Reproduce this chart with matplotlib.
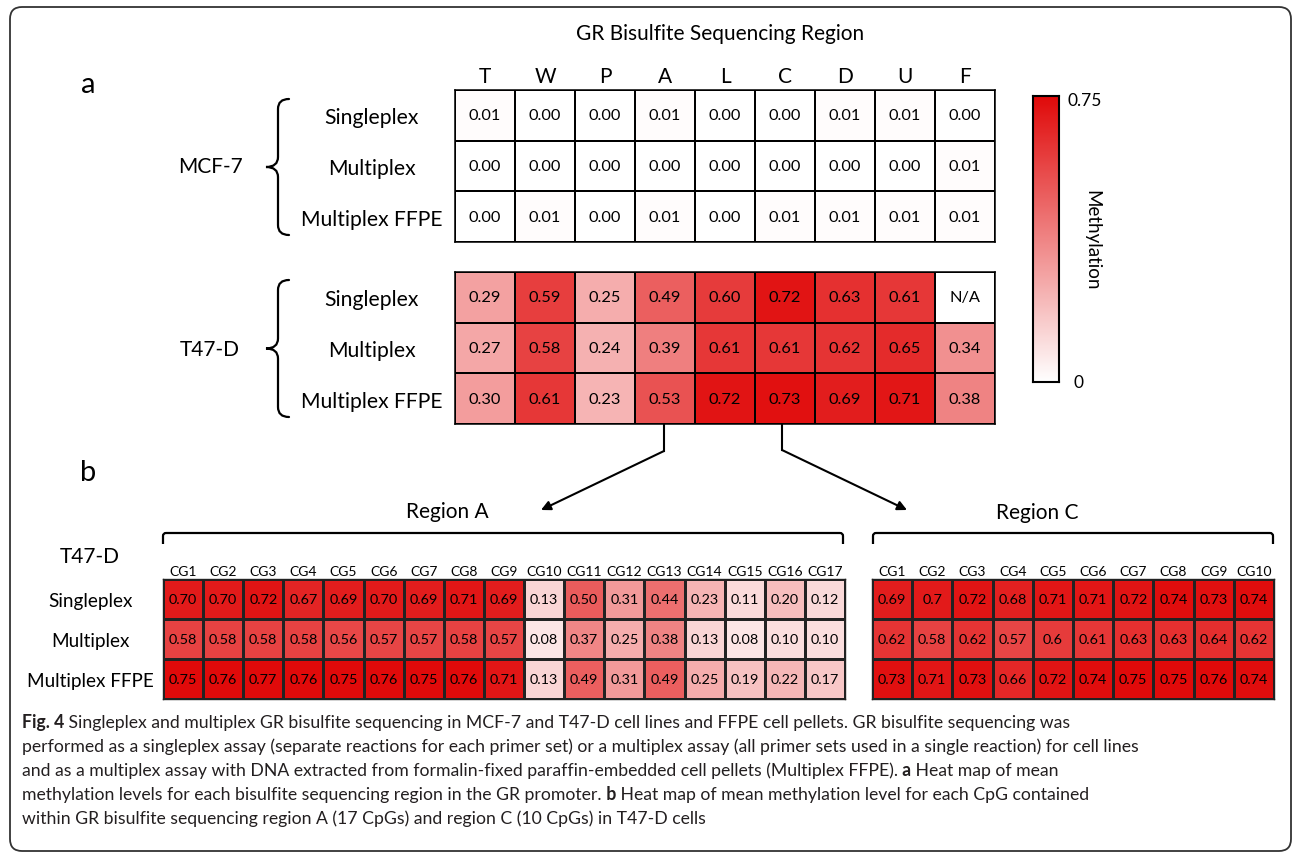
import numpy as np
import matplotlib
matplotlib.use("Agg")
import matplotlib.pyplot as plt
from matplotlib.colors import LinearSegmentedColormap
from matplotlib.path import Path
from matplotlib.patches import PathPatch, FancyBboxPatch

plt.rcParams['font.family'] = ['Lato', 'DejaVu Sans']

# ---- data ----
regions = ['T', 'W', 'P', 'A', 'L', 'C', 'D', 'U', 'F']
assays = ['Singleplex', 'Multiplex', 'Multiplex FFPE']

mcf7 = [[0.01, 0.00, 0.00, 0.01, 0.00, 0.00, 0.01, 0.01, 0.00],
        [0.00, 0.00, 0.00, 0.00, 0.00, 0.00, 0.00, 0.00, 0.01],
        [0.00, 0.01, 0.00, 0.01, 0.00, 0.01, 0.01, 0.01, 0.01]]
t47d = [[0.29, 0.59, 0.25, 0.49, 0.60, 0.72, 0.63, 0.61, np.nan],
        [0.27, 0.58, 0.24, 0.39, 0.61, 0.61, 0.62, 0.65, 0.34],
        [0.30, 0.61, 0.23, 0.53, 0.72, 0.73, 0.69, 0.71, 0.38]]

cg_a = ['CG%d' % i for i in range(1, 18)]
region_a = [[0.70, 0.70, 0.72, 0.67, 0.69, 0.70, 0.69, 0.71, 0.69, 0.13, 0.50, 0.31, 0.44, 0.23, 0.11, 0.20, 0.12],
            [0.58, 0.58, 0.58, 0.58, 0.56, 0.57, 0.57, 0.58, 0.57, 0.08, 0.37, 0.25, 0.38, 0.13, 0.08, 0.10, 0.10],
            [0.75, 0.76, 0.77, 0.76, 0.75, 0.76, 0.75, 0.76, 0.71, 0.13, 0.49, 0.31, 0.49, 0.25, 0.19, 0.22, 0.17]]

cg_c = ['CG%d' % i for i in range(1, 11)]
region_c = [[0.69, 0.7, 0.72, 0.68, 0.71, 0.71, 0.72, 0.74, 0.73, 0.74],
            [0.62, 0.58, 0.62, 0.57, 0.6, 0.61, 0.63, 0.63, 0.64, 0.62],
            [0.73, 0.71, 0.73, 0.66, 0.72, 0.74, 0.75, 0.75, 0.76, 0.74]]

# caption lines as (text, bold) pieces
caption = [
    [("Fig. 4", True), (" Singleplex and multiplex GR bisulfite sequencing in MCF-7 and T47-D cell lines and FFPE cell pellets. GR bisulfite sequencing was", False)],
    [("performed as a singleplex assay (separate reactions for each primer set) or a multiplex assay (all primer sets used in a single reaction) for cell lines", False)],
    [("and as a multiplex assay with DNA extracted from formalin-fixed paraffin-embedded cell pellets (Multiplex FFPE).", False), (" a", True), (" Heat map of mean", False)],
    [("methylation levels for each bisulfite sequencing region in the GR promoter.", False), (" b", True), (" Heat map of mean methylation level for each CpG contained", False)],
    [("within GR bisulfite sequencing region A (17 CpGs) and region C (10 CpGs) in T47-D cells", False)],
]

W, H = 1295, 854
cmap = LinearSegmentedColormap.from_list('meth', ['#ffffff', '#e00a0a'])
cmap.set_bad('white')

fig = plt.figure(figsize=(W / 100, H / 100), dpi=100)
renderer = fig.canvas.get_renderer()

# overlay in pixel coords for frame, braces, arrows
ov = fig.add_axes([0, 0, 1, 1])
ov.set_xlim(0, W)
ov.set_ylim(H, 0)
ov.axis('off')


def rect(x0, y0, x1, y1):
    return [x0 / W, 1 - y1 / H, (x1 - x0) / W, (y1 - y0) / H]


def heatmap(box, data, cols, rows, fmt, fs_val, fs_col, fs_row, row_pad, col_pad, lw, ec):
    ax = fig.add_axes(rect(*box))
    arr = np.ma.masked_invalid(np.array(data, dtype=float))
    ax.pcolormesh(arr, cmap=cmap, vmin=0, vmax=0.75, edgecolors=ec, linewidth=lw)
    ax.set_xlim(0, arr.shape[1])
    ax.set_ylim(arr.shape[0], 0)
    for i in range(arr.shape[0]):
        for j in range(arr.shape[1]):
            v = data[i][j]
            s = 'N/A' if np.isnan(v) else fmt(v)
            ax.text(j + 0.5, i + 0.5, s, ha='center', va='center', fontsize=fs_val)
    ax.xaxis.tick_top()
    ax.set_xticks(np.arange(len(cols)) + 0.5, cols, fontsize=fs_col)
    if rows:
        ax.set_yticks(np.arange(len(rows)) + 0.5, rows, fontsize=fs_row, ha='center')
    else:
        ax.set_yticks([])
    ax.tick_params(length=0)
    ax.tick_params(axis='x', pad=col_pad)
    ax.tick_params(axis='y', pad=row_pad)
    for sp in ax.spines.values():
        sp.set_linewidth(lw)
        sp.set_color(ec)
    return ax


f2 = lambda v: '%.2f' % v
fg = lambda v: '%g' % v

# panel a
heatmap((455, 91, 995, 243), mcf7, regions, assays, f2, 11.8, 15, 15.2, 60, 3, 1.1, 'black')
ax_t = heatmap((455, 273, 995, 425), t47d, [], assays, f2, 11.8, 15, 15.2, 60, 3, 1.1, 'black')
ax_t.set_xticks([])

# panel b
heatmap((163, 580, 845, 700), region_a, cg_a, assays, f2, 10.4, 10, 13.6, 52, 1.5, 1.0, '#222222')
heatmap((872, 580, 1274, 700), region_c, cg_c, None, fg, 10.4, 10, 13.6, 0, 1.5, 1.0, '#222222')

# colour bar
cax = fig.add_axes(rect(1033, 97, 1059, 383))
cax.imshow(np.linspace(0.75, 0, 256)[:, None], cmap=cmap, vmin=0, vmax=0.75, aspect='auto')
cax.set_xticks([])
cax.set_yticks([])
for sp in cax.spines.values():
    sp.set_linewidth(1.5)
ov.text(1068, 101, '0.75', fontsize=12.5, va='center', ha='left')
ov.text(1078, 383, '0', fontsize=12.5, va='center', ha='center')
ov.text(1092, 240, 'Methylation', fontsize=13.5, rotation=270, va='center', ha='center')

# titles and labels
ov.text(720, 34, 'GR Bisulfite Sequencing Region', fontsize=15, ha='center', va='center')
ov.text(88, 85, 'a', fontsize=21, ha='center', va='center')
ov.text(88, 473, 'b', fontsize=21, ha='center', va='center')
ov.text(210, 167, 'MCF-7', fontsize=15, ha='center', va='center')
ov.text(210, 350, 'T47-D', fontsize=15, ha='center', va='center')
ov.text(90, 557, 'T47-D', fontsize=15, ha='center', va='center')
ov.text(447, 512, 'Region A', fontsize=15, ha='center', va='center')
ov.text(1037, 513, 'Region C', fontsize=15, ha='center', va='center')


def brace(x_end, x_mid, x_tip, y_top, y_bot):
    ym = (y_top + y_bot) / 2
    r = 10
    verts = [(x_end, y_top), (x_mid, y_top), (x_mid, y_top + r),
             (x_mid, ym - r), (x_mid, ym), (x_tip, ym),
             (x_mid, ym), (x_mid, ym + r),
             (x_mid, y_bot - r), (x_mid, y_bot), (x_end, y_bot)]
    codes = [Path.MOVETO, Path.CURVE3, Path.CURVE3,
             Path.LINETO, Path.CURVE3, Path.CURVE3,
             Path.CURVE3, Path.CURVE3,
             Path.LINETO, Path.CURVE3, Path.CURVE3]
    ov.add_patch(PathPatch(Path(verts, codes), fill=False, lw=1.6, color='black', capstyle='round'))


brace(289, 278, 266, 100, 236)
brace(289, 278, 266, 281, 418)


def bracket(x0, x1, y, drop):
    r = 3
    verts = [(x0, y + drop), (x0, y + r), (x0, y), (x0 + r, y),
             (x1 - r, y), (x1, y), (x1, y + r), (x1, y + drop)]
    codes = [Path.MOVETO, Path.LINETO, Path.CURVE3, Path.CURVE3,
             Path.LINETO, Path.CURVE3, Path.CURVE3, Path.LINETO]
    ov.add_patch(PathPatch(Path(verts, codes), fill=False, lw=1.6, color='black'))


bracket(163, 843, 534, 11)
bracket(873, 1273, 534, 11)

# arrows from regions A and C
ov.plot([664, 664], [425, 452], color='black', lw=1.5)
ov.annotate('', xy=(541, 511), xytext=(664, 452),
            arrowprops=dict(arrowstyle='-|>', lw=1.5, color='black', mutation_scale=14, shrinkA=0, shrinkB=0))
ov.plot([782, 782], [425, 451], color='black', lw=1.5)
ov.annotate('', xy=(907, 511), xytext=(782, 451),
            arrowprops=dict(arrowstyle='-|>', lw=1.5, color='black', mutation_scale=14, shrinkA=0, shrinkB=0))

# caption, bold pieces placed one after another
for k, pieces in enumerate(caption):
    x = 22
    for txt, bold in pieces:
        t = ov.text(x, 728 + 24 * k, txt, fontsize=12.7, ha='left', va='baseline',
                    color='#231f20', fontweight='bold' if bold else 'normal')
        x += t.get_window_extent(renderer).width

# outer frame
ov.add_patch(FancyBboxPatch((10, 8), 1281, 844, boxstyle='round,pad=0,rounding_size=12',
                            fill=False, lw=1.3, ec='#333333'))

fig.savefig('out.png', dpi=100)
